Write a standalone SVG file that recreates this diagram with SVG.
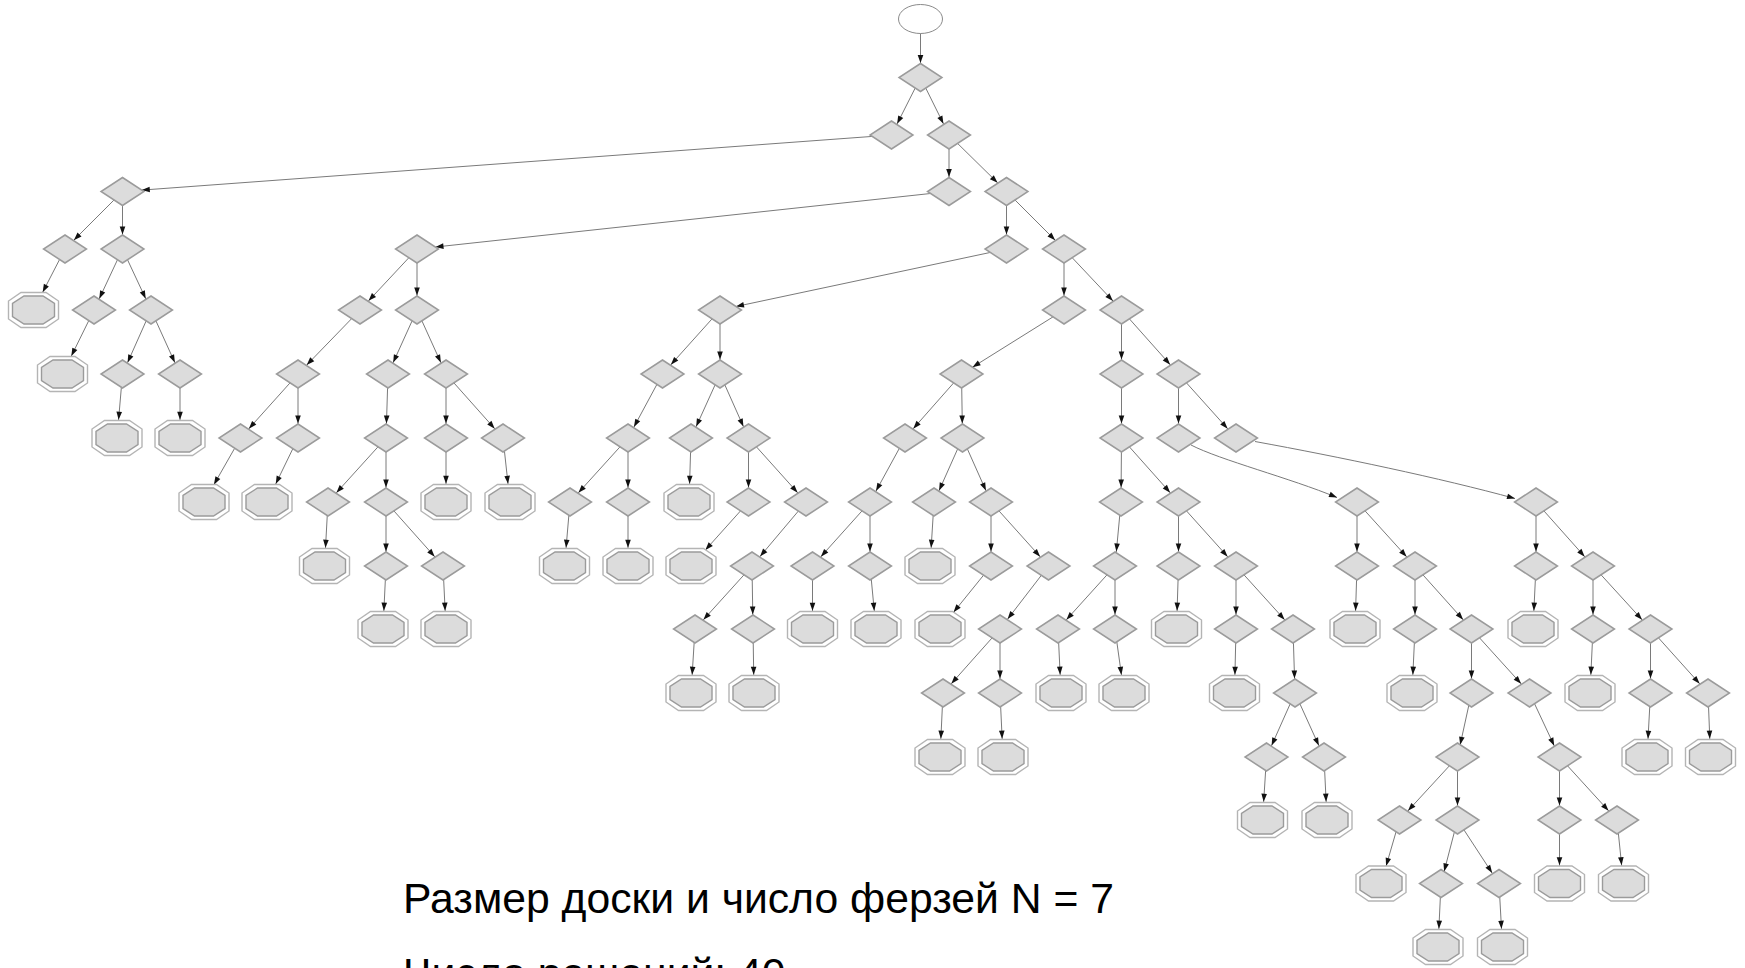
<svg xmlns="http://www.w3.org/2000/svg" xmlns:xlink="http://www.w3.org/1999/xlink" width="1745" height="968" viewBox="0 0 1745 968">
<style>
.e{fill:none;stroke:#7a7a7a;stroke-width:1}
.v{marker-end:url(#aV)}
.d{marker-end:url(#aD)}
.ov{marker-end:url(#aOV)}
.om{marker-end:url(#aOM)}
.od{marker-end:url(#aOD)}
.x{marker-end:url(#aX)}
.ah{fill:#111;stroke:none}
.dm{fill:#dcdcdc;stroke:#9b9b9b;stroke-width:1.5}
.oo{fill:#fff;stroke:#b4b4b4;stroke-width:1.4}
.oi{fill:#dcdcdc;stroke:#9b9b9b;stroke-width:1.4}
.st{fill:#fff;stroke:#8a8a8a;stroke-width:1}
.lbl{font-family:"Liberation Sans",Arial,sans-serif;font-size:42.7px;fill:#000}
</style>
<defs>
<!-- arrowheads: tip offset back from the node centre to its outline -->
<marker id="aV" markerUnits="userSpaceOnUse" orient="auto" overflow="visible" markerWidth="1" markerHeight="1"><path class="ah" d="M-14.5,0 L-22.5,-2.8 L-22.5,2.8 Z"/></marker>
<marker id="aD" markerUnits="userSpaceOnUse" orient="auto" overflow="visible" markerWidth="1" markerHeight="1"><path class="ah" d="M-12.5,0 L-20.5,-2.8 L-20.5,2.8 Z"/></marker>
<marker id="aOV" markerUnits="userSpaceOnUse" orient="auto" overflow="visible" markerWidth="1" markerHeight="1"><path class="ah" d="M-18.3,0 L-26.3,-2.8 L-26.3,2.8 Z"/></marker>
<marker id="aOM" markerUnits="userSpaceOnUse" orient="auto" overflow="visible" markerWidth="1" markerHeight="1"><path class="ah" d="M-20,0 L-28,-2.8 L-28,2.8 Z"/></marker>
<marker id="aOD" markerUnits="userSpaceOnUse" orient="auto" overflow="visible" markerWidth="1" markerHeight="1"><path class="ah" d="M-21.5,0 L-29.5,-2.8 L-29.5,2.8 Z"/></marker>
<marker id="aX" markerUnits="userSpaceOnUse" orient="auto" overflow="visible" markerWidth="1" markerHeight="1"><path class="ah" d="M0,0 L-8,-2.8 L-8,2.8 Z"/></marker>
<!-- node shapes -->
<path id="dia" class="dm" d="M0,-14 L21.5,0 L0,14 L-21.5,0 Z"/>
<g id="oct">
<polygon class="oo" points="-12.5,-17.5 12.5,-17.5 25,-9 25,9 12.5,17.5 -12.5,17.5 -25,9 -25,-9"/>
<polygon class="oi" points="-9.5,-14 9.5,-14 21,-6.5 21,6.5 9.5,14 -9.5,14 -21,6.5 -21,-6.5"/>
</g>
</defs>
<rect width="1745" height="968" fill="#fff"/>
<g id="edges" class="e">
<path class="v" d="M920.5,19 L920.5,77.5"/>
<path class="d" d="M920.5,77.5 L891.5,135"/>
<path class="d" d="M920.5,77.5 L949,135"/>
<path class="x" d="M891.5,135 L141.8,190.1"/>
<path class="v" d="M949,135 L949,191.5"/>
<path class="d" d="M949,135 L1006.5,191.5"/>
<path class="d" d="M122.5,191.5 L65,249"/>
<path class="v" d="M122.5,191.5 L122.5,249"/>
<path class="x" d="M949,191.5 L435.5,247"/>
<path class="v" d="M1006.5,191.5 L1006.5,249"/>
<path class="d" d="M1006.5,191.5 L1064,249"/>
<path class="om" d="M65,249 L33.5,310"/>
<path class="d" d="M122.5,249 L94,310"/>
<path class="d" d="M122.5,249 L151,310"/>
<path class="d" d="M417,249 L360,310"/>
<path class="v" d="M417,249 L417,310"/>
<path class="x" d="M1006.5,249 L736,306.5"/>
<path class="v" d="M1064,249 L1064,310"/>
<path class="d" d="M1064,249 L1121.5,310"/>
<path class="om" d="M94,310 L62.5,374"/>
<path class="d" d="M151,310 L122.5,374"/>
<path class="d" d="M151,310 L180,374"/>
<path class="d" d="M360,310 L298,374"/>
<path class="d" d="M417,310 L388,374"/>
<path class="d" d="M417,310 L446,374"/>
<path class="d" d="M720,310 L662.5,374"/>
<path class="v" d="M720,310 L720,374"/>
<path class="x" d="M1064,310 L972.5,367.2"/>
<path class="v" d="M1121.5,310 L1121.5,374"/>
<path class="d" d="M1121.5,310 L1178.5,374"/>
<path class="ov" d="M122.5,374 L117,438"/>
<path class="ov" d="M180,374 L180,438"/>
<path class="d" d="M298,374 L240.5,438"/>
<path class="v" d="M298,374 L298,438"/>
<path class="v" d="M388,374 L386,438"/>
<path class="v" d="M446,374 L446,438"/>
<path class="d" d="M446,374 L503,438"/>
<path class="d" d="M662.5,374 L628,438"/>
<path class="d" d="M720,374 L691,438"/>
<path class="d" d="M720,374 L748.5,438"/>
<path class="d" d="M961.5,374 L905,438"/>
<path class="v" d="M961.5,374 L962.5,438"/>
<path class="v" d="M1121.5,374 L1121.5,438"/>
<path class="v" d="M1178.5,374 L1178.5,438"/>
<path class="d" d="M1178.5,374 L1236,438"/>
<path class="om" d="M240.5,438 L204,502"/>
<path class="om" d="M298,438 L267,502"/>
<path class="d" d="M386,438 L328,502"/>
<path class="v" d="M386,438 L386,502"/>
<path class="ov" d="M446,438 L446,502"/>
<path class="ov" d="M503,438 L510,502"/>
<path class="d" d="M628,438 L570,502"/>
<path class="v" d="M628,438 L628,502"/>
<path class="ov" d="M691,438 L689,502"/>
<path class="v" d="M748.5,438 L748.5,502"/>
<path class="d" d="M748.5,438 L806,502"/>
<path class="d" d="M905,438 L870,502"/>
<path class="d" d="M962.5,438 L934,502"/>
<path class="d" d="M962.5,438 L991,502"/>
<path class="v" d="M1121.5,438 L1121,502"/>
<path class="d" d="M1121.5,438 L1178.5,502"/>
<path class="x" d="M1191,445 C1220,460 1290,478 1337,497.5"/>
<path class="x" d="M1255,441.5 C1340,457 1440,478 1515,498.5"/>
<path class="ov" d="M328,502 L324.5,566"/>
<path class="v" d="M386,502 L386,566"/>
<path class="d" d="M386,502 L443,566"/>
<path class="ov" d="M570,502 L564.5,566"/>
<path class="ov" d="M628,502 L628,566"/>
<path class="od" d="M748.5,502 L691,566"/>
<path class="d" d="M806,502 L752,566"/>
<path class="d" d="M870,502 L812.5,566"/>
<path class="v" d="M870,502 L870,566"/>
<path class="ov" d="M934,502 L930,566"/>
<path class="v" d="M991,502 L991,566"/>
<path class="d" d="M991,502 L1048.5,566"/>
<path class="v" d="M1121,502 L1115,566"/>
<path class="v" d="M1178.5,502 L1178.5,566"/>
<path class="d" d="M1178.5,502 L1236,566"/>
<path class="v" d="M1357,502 L1357,566"/>
<path class="d" d="M1357,502 L1415,566"/>
<path class="v" d="M1536,502 L1536,566"/>
<path class="d" d="M1536,502 L1593,566"/>
<path class="ov" d="M386,566 L383,629"/>
<path class="ov" d="M443,566 L446,629"/>
<path class="d" d="M752,566 L695,629"/>
<path class="v" d="M752,566 L753,629"/>
<path class="ov" d="M812.5,566 L812.5,629"/>
<path class="ov" d="M870,566 L876,629"/>
<path class="od" d="M991,566 L940,629"/>
<path class="d" d="M1048.5,566 L1000,629"/>
<path class="d" d="M1115,566 L1058,629"/>
<path class="v" d="M1115,566 L1115,629"/>
<path class="ov" d="M1178.5,566 L1176.5,629"/>
<path class="v" d="M1236,566 L1236,629"/>
<path class="d" d="M1236,566 L1293,629"/>
<path class="ov" d="M1357,566 L1355,629"/>
<path class="v" d="M1415,566 L1415,629"/>
<path class="d" d="M1415,566 L1471.5,629"/>
<path class="ov" d="M1536,566 L1533,629"/>
<path class="v" d="M1593,566 L1593,629"/>
<path class="d" d="M1593,566 L1650.5,629"/>
<path class="ov" d="M695,629 L691,693"/>
<path class="ov" d="M753,629 L754,693"/>
<path class="d" d="M1000,629 L943,693"/>
<path class="v" d="M1000,629 L1000,693"/>
<path class="ov" d="M1058,629 L1061,693"/>
<path class="ov" d="M1115,629 L1124,693"/>
<path class="ov" d="M1236,629 L1234.5,693"/>
<path class="v" d="M1293,629 L1295,693"/>
<path class="ov" d="M1415,629 L1412,693"/>
<path class="v" d="M1471.5,629 L1471.5,693"/>
<path class="d" d="M1471.5,629 L1529.5,693"/>
<path class="ov" d="M1593,629 L1590,693"/>
<path class="v" d="M1650.5,629 L1650.5,693"/>
<path class="d" d="M1650.5,629 L1708,693"/>
<path class="ov" d="M943,693 L940,757"/>
<path class="ov" d="M1000,693 L1003,757"/>
<path class="d" d="M1295,693 L1266.5,757"/>
<path class="d" d="M1295,693 L1324,757"/>
<path class="d" d="M1471.5,693 L1457.5,757"/>
<path class="d" d="M1529.5,693 L1559.5,757"/>
<path class="ov" d="M1650.5,693 L1647,757"/>
<path class="ov" d="M1708,693 L1710.5,757"/>
<path class="ov" d="M1266.5,757 L1262.5,820"/>
<path class="ov" d="M1324,757 L1327,820"/>
<path class="d" d="M1457.5,757 L1399.5,820"/>
<path class="v" d="M1457.5,757 L1457.5,820"/>
<path class="v" d="M1559.5,757 L1559.5,820"/>
<path class="d" d="M1559.5,757 L1617,820"/>
<path class="ov" d="M1399.5,820 L1381,883.5"/>
<path class="d" d="M1457.5,820 L1441,883.5"/>
<path class="d" d="M1457.5,820 L1499,883.5"/>
<path class="ov" d="M1559.5,820 L1559.5,883.5"/>
<path class="ov" d="M1617,820 L1623.5,883.5"/>
<path class="ov" d="M1441,883.5 L1438,947"/>
<path class="ov" d="M1499,883.5 L1502.5,947"/>
</g>
<g id="nodes">
<g id="start"><ellipse class="st" cx="920.5" cy="19" rx="22" ry="14.5"/></g>
<g id="n1"><use href="#dia" x="920.5" y="77.5"/></g>
<g id="n2a"><use href="#dia" x="891.5" y="135"/></g>
<g id="n2b"><use href="#dia" x="949" y="135"/></g>
<g id="n3a"><use href="#dia" x="122.5" y="191.5"/></g>
<g id="n3b"><use href="#dia" x="949" y="191.5"/></g>
<g id="n3c"><use href="#dia" x="1006.5" y="191.5"/></g>
<g id="n4a"><use href="#dia" x="65" y="249"/></g>
<g id="n4b"><use href="#dia" x="122.5" y="249"/></g>
<g id="n4c"><use href="#dia" x="417" y="249"/></g>
<g id="n4d"><use href="#dia" x="1006.5" y="249"/></g>
<g id="n4e"><use href="#dia" x="1064" y="249"/></g>
<g id="n5a"><use href="#oct" x="33.5" y="310"/></g>
<g id="n5b"><use href="#dia" x="94" y="310"/></g>
<g id="n5c"><use href="#dia" x="151" y="310"/></g>
<g id="n5d"><use href="#dia" x="360" y="310"/></g>
<g id="n5e"><use href="#dia" x="417" y="310"/></g>
<g id="n5f"><use href="#dia" x="720" y="310"/></g>
<g id="n5g"><use href="#dia" x="1064" y="310"/></g>
<g id="n5h"><use href="#dia" x="1121.5" y="310"/></g>
<g id="n6a"><use href="#oct" x="62.5" y="374"/></g>
<g id="n6b"><use href="#dia" x="122.5" y="374"/></g>
<g id="n6c"><use href="#dia" x="180" y="374"/></g>
<g id="n6d"><use href="#dia" x="298" y="374"/></g>
<g id="n6e"><use href="#dia" x="388" y="374"/></g>
<g id="n6f"><use href="#dia" x="446" y="374"/></g>
<g id="n6g"><use href="#dia" x="662.5" y="374"/></g>
<g id="n6h"><use href="#dia" x="720" y="374"/></g>
<g id="n6i"><use href="#dia" x="961.5" y="374"/></g>
<g id="n6j"><use href="#dia" x="1121.5" y="374"/></g>
<g id="n6k"><use href="#dia" x="1178.5" y="374"/></g>
<g id="n7a"><use href="#oct" x="117" y="438"/></g>
<g id="n7b"><use href="#oct" x="180" y="438"/></g>
<g id="n7c"><use href="#dia" x="240.5" y="438"/></g>
<g id="n7d"><use href="#dia" x="298" y="438"/></g>
<g id="n7e"><use href="#dia" x="386" y="438"/></g>
<g id="n7f"><use href="#dia" x="446" y="438"/></g>
<g id="n7g"><use href="#dia" x="503" y="438"/></g>
<g id="n7h"><use href="#dia" x="628" y="438"/></g>
<g id="n7i"><use href="#dia" x="691" y="438"/></g>
<g id="n7j"><use href="#dia" x="748.5" y="438"/></g>
<g id="n7k"><use href="#dia" x="905" y="438"/></g>
<g id="n7l"><use href="#dia" x="962.5" y="438"/></g>
<g id="n7m"><use href="#dia" x="1121.5" y="438"/></g>
<g id="n7n"><use href="#dia" x="1178.5" y="438"/></g>
<g id="n7o"><use href="#dia" x="1236" y="438"/></g>
<g id="n8a"><use href="#oct" x="204" y="502"/></g>
<g id="n8b"><use href="#oct" x="267" y="502"/></g>
<g id="n8c"><use href="#dia" x="328" y="502"/></g>
<g id="n8d"><use href="#dia" x="386" y="502"/></g>
<g id="n8e"><use href="#oct" x="446" y="502"/></g>
<g id="n8f"><use href="#oct" x="510" y="502"/></g>
<g id="n8g"><use href="#dia" x="570" y="502"/></g>
<g id="n8h"><use href="#dia" x="628" y="502"/></g>
<g id="n8i"><use href="#oct" x="689" y="502"/></g>
<g id="n8j"><use href="#dia" x="748.5" y="502"/></g>
<g id="n8k"><use href="#dia" x="806" y="502"/></g>
<g id="n8l"><use href="#dia" x="870" y="502"/></g>
<g id="n8m"><use href="#dia" x="934" y="502"/></g>
<g id="n8n"><use href="#dia" x="991" y="502"/></g>
<g id="n8o"><use href="#dia" x="1121" y="502"/></g>
<g id="n8p"><use href="#dia" x="1178.5" y="502"/></g>
<g id="n8q"><use href="#dia" x="1357" y="502"/></g>
<g id="n8r"><use href="#dia" x="1536" y="502"/></g>
<g id="n9a"><use href="#oct" x="324.5" y="566"/></g>
<g id="n9b"><use href="#dia" x="386" y="566"/></g>
<g id="n9c"><use href="#dia" x="443" y="566"/></g>
<g id="n9d"><use href="#oct" x="564.5" y="566"/></g>
<g id="n9e"><use href="#oct" x="628" y="566"/></g>
<g id="n9f"><use href="#oct" x="691" y="566"/></g>
<g id="n9g"><use href="#dia" x="752" y="566"/></g>
<g id="n9h"><use href="#dia" x="812.5" y="566"/></g>
<g id="n9i"><use href="#dia" x="870" y="566"/></g>
<g id="n9j"><use href="#oct" x="930" y="566"/></g>
<g id="n9k"><use href="#dia" x="991" y="566"/></g>
<g id="n9l"><use href="#dia" x="1048.5" y="566"/></g>
<g id="n9m"><use href="#dia" x="1115" y="566"/></g>
<g id="n9n"><use href="#dia" x="1178.5" y="566"/></g>
<g id="n9o"><use href="#dia" x="1236" y="566"/></g>
<g id="n9p"><use href="#dia" x="1357" y="566"/></g>
<g id="n9q"><use href="#dia" x="1415" y="566"/></g>
<g id="n9r"><use href="#dia" x="1536" y="566"/></g>
<g id="n9s"><use href="#dia" x="1593" y="566"/></g>
<g id="n10a"><use href="#oct" x="383" y="629"/></g>
<g id="n10b"><use href="#oct" x="446" y="629"/></g>
<g id="n10c"><use href="#dia" x="695" y="629"/></g>
<g id="n10d"><use href="#dia" x="753" y="629"/></g>
<g id="n10e"><use href="#oct" x="812.5" y="629"/></g>
<g id="n10f"><use href="#oct" x="876" y="629"/></g>
<g id="n10g"><use href="#oct" x="940" y="629"/></g>
<g id="n10h"><use href="#dia" x="1000" y="629"/></g>
<g id="n10i"><use href="#dia" x="1058" y="629"/></g>
<g id="n10j"><use href="#dia" x="1115" y="629"/></g>
<g id="n10k"><use href="#oct" x="1176.5" y="629"/></g>
<g id="n10l"><use href="#dia" x="1236" y="629"/></g>
<g id="n10m"><use href="#dia" x="1293" y="629"/></g>
<g id="n10n"><use href="#oct" x="1355" y="629"/></g>
<g id="n10o"><use href="#dia" x="1415" y="629"/></g>
<g id="n10p"><use href="#dia" x="1471.5" y="629"/></g>
<g id="n10q"><use href="#oct" x="1533" y="629"/></g>
<g id="n10r"><use href="#dia" x="1593" y="629"/></g>
<g id="n10s"><use href="#dia" x="1650.5" y="629"/></g>
<g id="n11a"><use href="#oct" x="691" y="693"/></g>
<g id="n11b"><use href="#oct" x="754" y="693"/></g>
<g id="n11c"><use href="#dia" x="943" y="693"/></g>
<g id="n11d"><use href="#dia" x="1000" y="693"/></g>
<g id="n11e"><use href="#oct" x="1061" y="693"/></g>
<g id="n11f"><use href="#oct" x="1124" y="693"/></g>
<g id="n11g"><use href="#oct" x="1234.5" y="693"/></g>
<g id="n11h"><use href="#dia" x="1295" y="693"/></g>
<g id="n11i"><use href="#oct" x="1412" y="693"/></g>
<g id="n11j"><use href="#dia" x="1471.5" y="693"/></g>
<g id="n11k"><use href="#dia" x="1529.5" y="693"/></g>
<g id="n11l"><use href="#oct" x="1590" y="693"/></g>
<g id="n11m"><use href="#dia" x="1650.5" y="693"/></g>
<g id="n11n"><use href="#dia" x="1708" y="693"/></g>
<g id="n12a"><use href="#oct" x="940" y="757"/></g>
<g id="n12b"><use href="#oct" x="1003" y="757"/></g>
<g id="n12c"><use href="#dia" x="1266.5" y="757"/></g>
<g id="n12d"><use href="#dia" x="1324" y="757"/></g>
<g id="n12e"><use href="#dia" x="1457.5" y="757"/></g>
<g id="n12f"><use href="#dia" x="1559.5" y="757"/></g>
<g id="n12g"><use href="#oct" x="1647" y="757"/></g>
<g id="n12h"><use href="#oct" x="1710.5" y="757"/></g>
<g id="n13a"><use href="#oct" x="1262.5" y="820"/></g>
<g id="n13b"><use href="#oct" x="1327" y="820"/></g>
<g id="n13c"><use href="#dia" x="1399.5" y="820"/></g>
<g id="n13d"><use href="#dia" x="1457.5" y="820"/></g>
<g id="n13e"><use href="#dia" x="1559.5" y="820"/></g>
<g id="n13f"><use href="#dia" x="1617" y="820"/></g>
<g id="n14a"><use href="#oct" x="1381" y="883.5"/></g>
<g id="n14b"><use href="#dia" x="1441" y="883.5"/></g>
<g id="n14c"><use href="#dia" x="1499" y="883.5"/></g>
<g id="n14d"><use href="#oct" x="1559.5" y="883.5"/></g>
<g id="n14e"><use href="#oct" x="1623.5" y="883.5"/></g>
<g id="n15a"><use href="#oct" x="1438" y="947"/></g>
<g id="n15b"><use href="#oct" x="1502.5" y="947"/></g>
</g>
<g id="caption">
<text class="lbl" x="403" y="913">Размер доски и число ферзей N = 7</text>
<text class="lbl" x="403" y="988">Число решений: 40</text>
</g>
</svg>
